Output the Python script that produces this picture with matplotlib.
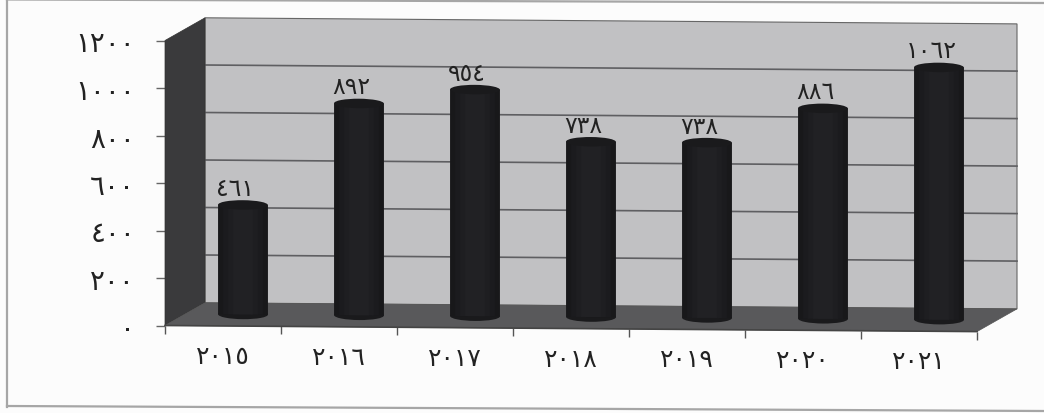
import matplotlib
matplotlib.use('Agg')
import matplotlib.pyplot as plt
from matplotlib.lines import Line2D
from matplotlib.patches import Ellipse, Polygon
from matplotlib.transforms import Affine2D

years = ['٢٠١٥', '٢٠١٦', '٢٠١٧', '٢٠١٨', '٢٠١٩', '٢٠٢٠', '٢٠٢١']
values = [461, 892, 954, 738, 738, 886, 1062]
value_labels = ['٤٦١', '٨٩٢', '٩٥٤', '٧٣٨', '٧٣٨', '٨٨٦', '١٠٦٢']
yticks = [0, 200, 400, 600, 800, 1000, 1200]
ytick_labels = ['٠', '٢٠٠', '٤٠٠', '٦٠٠', '٨٠٠', '١٠٠٠', '١٢٠٠']

W, H = 1044, 414
plt.rcParams['font.family'] = 'DejaVu Sans'
fig = plt.figure(figsize=(W / 100, H / 100), dpi=100, facecolor='#fcfcfc')
ax = fig.add_axes([165 / W, (H - 326.5) / H, 812 / W, 285 / H])
ax.set_xlim(0, 7)
ax.set_ylim(0, 1200)
ax.patch.set_visible(False)
for s in ax.spines.values():
    s.set_visible(False)

# the scan is rotated a little: everything leans down to the right
slope = 0.0075
tilt = Affine2D.from_values(1, -slope, 0, 1, 0, slope * 165)
base = ax.transData + tilt
wall = base + Affine2D().translate(40, 23)
mid = base + Affine2D().translate(20, 11.5)


def px(x, y, dx=0, dy=0):
    p = ax.transData.transform((x, y))
    return (p[0] + dx, p[1] + dy)


# back wall, side wall, floor
ax.add_patch(Polygon([px(0, 0, 40, 23), px(7, 0, 40, 23), px(7, 1200, 40, 23), px(0, 1200, 40, 23)],
                     transform=tilt, fc='#c1c1c3', ec='#666666', lw=0.8, clip_on=False, zorder=1))
ax.add_patch(Polygon([px(0, 0), px(0, 0, 40, 23), px(0, 1200, 40, 23), px(0, 1200)],
                     transform=tilt, fc='#3a3a3c', ec='#333333', lw=0.5, clip_on=False, zorder=2))
ax.add_patch(Polygon([px(0, 0), px(7, 0), px(7, 0, 40, 23), px(0, 0, 40, 23)],
                     transform=tilt, fc='#59595b', ec='#555555', lw=0.5, clip_on=False, zorder=2))
for v in yticks[1:-1]:
    ax.plot([0, 7], [v, v], transform=wall, color='#5f5f62', lw=1.2, clip_on=False, zorder=1.5)
ax.plot([0, 7], [0, 0], transform=base, color='#444444', lw=1.2, clip_on=False, zorder=3)

# cylinders: barely lighter strips towards the middle
bar_w = 0.43
cap_h = 40
positions = [i + 0.5 for i in range(len(values))]
shades = [(1.0, '#18181a'), (0.8, '#1b1b1e'), (0.6, '#1e1e21'), (0.4, '#212124')]
for frac, col in shades:
    ax.bar(positions, values, width=bar_w * frac, color=col, transform=mid,
           clip_on=False, zorder=4)
for x, v in zip(positions, values):
    ax.add_patch(Ellipse((x, 0), bar_w, cap_h, fc='#1a1a1c', ec='none', transform=mid,
                         clip_on=False, zorder=3.9))
    ax.add_patch(Ellipse((x, v), bar_w, cap_h, fc='#1a1a1c', ec='none', transform=mid,
                         clip_on=False, zorder=5))

label_tf = mid + Affine2D().translate(-8, 5)
for x, v, t in zip(positions, values, value_labels):
    ax.text(x, v, t, transform=label_tf, ha='center', va='bottom', fontsize=17,
            color='#222222', clip_on=False, zorder=6)

# axes ticks
ax.set_yticks(yticks)
ax.set_yticklabels(ytick_labels)
ax.set_xticks(range(8))
ax.set_xticklabels([])
ax.set_xticks(positions, minor=True)
ax.set_xticklabels(years, minor=True)
ax.tick_params(axis='y', length=6.5, width=1, color='#666666', pad=15, labelsize=20, labelcolor='#222222')
ax.tick_params(axis='x', which='major', length=5.5, width=1, color='#555555')
ax.tick_params(axis='x', which='minor', length=0, pad=13, labelsize=18, labelcolor='#222222')
for tick in ax.xaxis.get_major_ticks() + ax.xaxis.get_minor_ticks():
    tick.tick1line.set_transform(tick.tick1line.get_transform() + tilt)
    tick.label1.set_transform(tick.label1.get_transform() + tilt)

# scanned frame round the chart
frame_kw = dict(transform=None, color='#a6a6a6', lw=1.6)
fig.add_artist(Line2D([7, 7], [H - 1, H - 408], **frame_kw))
fig.add_artist(Line2D([7, W], [H - 407, H - 412], **frame_kw))
fig.add_artist(Line2D([7, W], [H - 0.5, H - 4], **frame_kw))

fig.savefig('out.png', dpi=100, facecolor=fig.get_facecolor())
